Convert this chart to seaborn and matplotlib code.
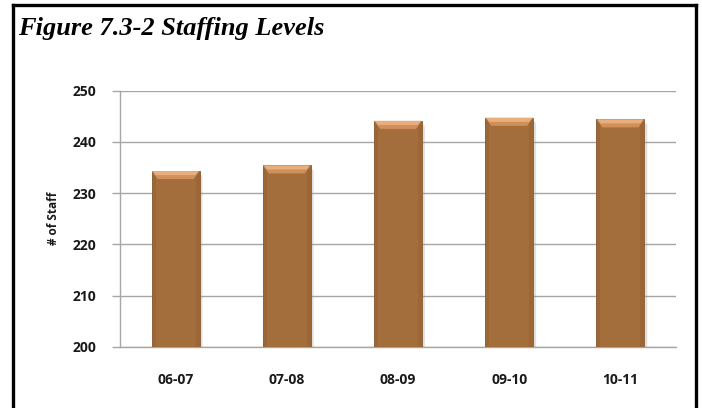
import numpy as np
import matplotlib
matplotlib.use("Agg")
import matplotlib.pyplot as plt
import seaborn as sns
import pandas as pd
from matplotlib.lines import Line2D
from matplotlib.patches import Polygon

# Staffing data by fiscal year
years = ["06-07", "07-08", "08-09", "09-10", "10-11"]
staff = [234.3, 235.4, 244.1, 244.7, 244.4]
y_ticks = [200, 210, 220, 230, 240, 250]

sns.set_theme(style="white")
plt.rcParams["font.family"] = ["Open Sans", "DejaVu Sans"]

W, H = 702, 408
fig = plt.figure(figsize=(W / 100, H / 100), dpi=100)
ax = fig.add_axes([120 / W, 1 - 346.7 / H, (676 - 120) / W, (346.7 - 90.7) / H])

df = pd.DataFrame({"year": years, "staff": staff})
bar_color = "#A36D3C"
sns.barplot(data=df, x="year", y="staff", color=bar_color, width=0.43,
            edgecolor="#8A5A2E", linewidth=0.6, saturation=1, ax=ax, zorder=3)

ax.set_ylim(y_ticks[0], y_ticks[-1])
ax.set_xlim(-0.5, len(years) - 0.5)
ax.set_yticks(y_ticks)
ax.yaxis.grid(True, color="#A6A6A6", linewidth=1.0, zorder=0)
ax.set_axisbelow(True)

for side in ["top", "right"]:
    ax.spines[side].set_visible(False)
for side in ["left", "bottom"]:
    ax.spines[side].set_color("#A6A6A6")
    ax.spines[side].set_linewidth(1.0)

ax.tick_params(axis="y", which="major", left=True, length=6, width=1.0,
               color="#A6A6A6", pad=11, labelsize=10, labelcolor="#1a1a1a")
ax.tick_params(axis="x", which="major", bottom=False, pad=13, labelsize=10,
               labelcolor="#1a1a1a")
for lab in ax.get_xticklabels() + ax.get_yticklabels():
    lab.set_fontweight("bold")

ax.set_xlabel("")
ax.set_ylabel("# of Staff", fontsize=8.5, fontweight="bold", color="#1a1a1a", labelpad=9)

# Bevelled caps and soft side shading on each bar
fig.canvas.draw()
to_data = ax.transData.inverted()
for p in ax.patches:
    x0, y0 = ax.transData.transform((p.get_x(), p.get_y()))
    x1, y1 = ax.transData.transform((p.get_x() + p.get_width(), p.get_y() + p.get_height()))
    # soft shadow on the right
    sh = [(x1, y1 - 3), (x1 + 3, y1 - 5), (x1 + 3, y0), (x1, y0)]
    ax.add_patch(Polygon(to_data.transform(sh), closed=True, facecolor="#9a9a9a",
                         edgecolor="none", alpha=0.3, zorder=2))
    # slightly darker side strips
    for xa, xb in [(x0, x0 + 4), (x1 - 4, x1)]:
        strip = [(xa, y0), (xb, y0), (xb, y1), (xa, y1)]
        ax.add_patch(Polygon(to_data.transform(strip), closed=True, facecolor="#8A5A2E",
                             edgecolor="none", alpha=0.3, zorder=4))
    cap = [(x0, y1), (x1, y1), (x1 - 6, y1 - 8), (x0 + 6, y1 - 8)]
    ax.add_patch(Polygon(to_data.transform(cap), closed=True, facecolor="#D1905A",
                         edgecolor="none", zorder=5))
    hl = [(x0 + 1, y1), (x1 - 1, y1), (x1 - 4, y1 - 4), (x0 + 4, y1 - 4)]
    ax.add_patch(Polygon(to_data.transform(hl), closed=True, facecolor="#E8AE7C",
                         edgecolor="none", zorder=6))

# Title
fig.text(18 / W, 1 - 29 / H, "Figure 7.3-2 Staffing Levels", fontsize=19,
         family=["Liberation Serif", "DejaVu Serif"], fontweight="bold", fontstyle="italic",
         va="center", ha="left", color="black")

# Frame around the figure
def fx(px):
    return px / W

def fy(py):
    return 1 - py / H

frame_kw = dict(color="black", linewidth=2.4, transform=fig.transFigure, solid_capstyle="projecting")
fig.add_artist(Line2D([fx(12.5), fx(12.5)], [fy(5), fy(410)], **frame_kw))
fig.add_artist(Line2D([fx(12.5), fx(696)], [fy(5), fy(5)], **frame_kw))
fig.add_artist(Line2D([fx(696), fx(696)], [fy(5), fy(410)], **frame_kw))

fig.savefig("out.png", dpi=100)
